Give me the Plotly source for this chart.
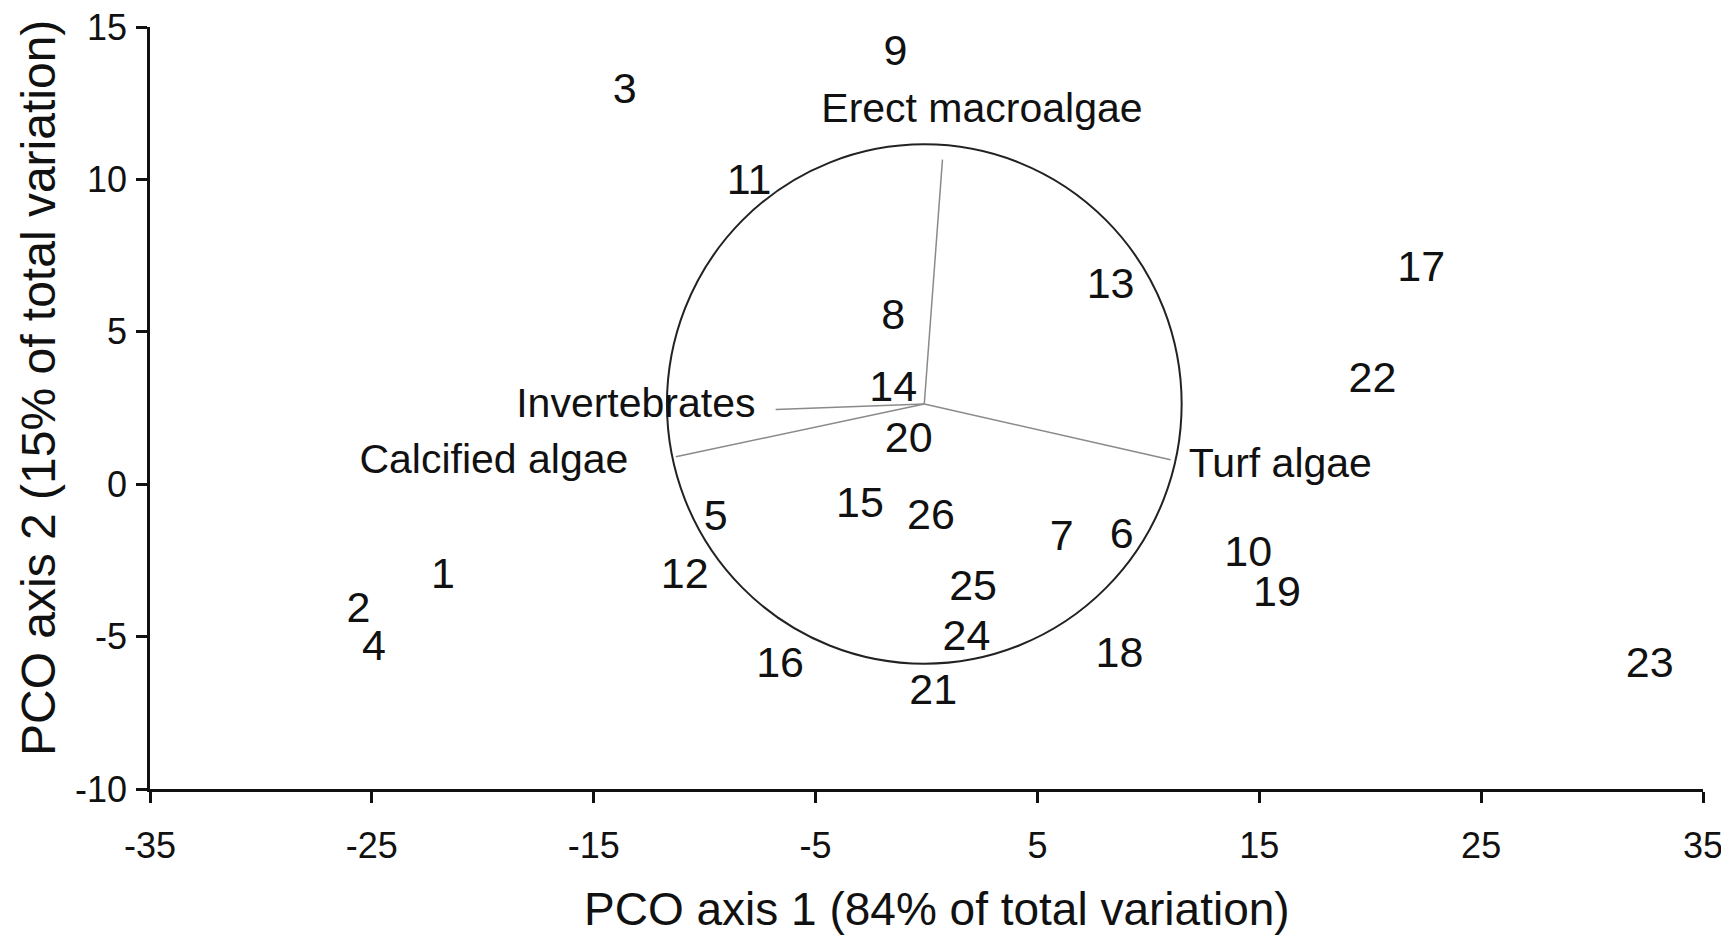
import plotly.graph_objects as go

# Sample scores on PCO axes
sample_labels = ["1", "2", "3", "4", "5", "6", "7", "8", "9", "10", "11", "12", "13",
                 "14", "15", "16", "17", "18", "19", "20", "21", "22", "23", "24", "25", "26"]
pco1 = [-21.8, -25.6, -13.6, -24.9, -9.5, 8.8, 6.1, -1.5, -1.4, 14.5, -8.0, -10.9, 8.3,
        -1.5, -3.0, -6.6, 22.3, 8.7, 15.8, -0.8, 0.3, 20.1, 32.6, 1.8, 2.1, 0.2]
pco2 = [-3.04, -4.17, 12.86, -5.41, -1.14, -1.74, -1.81, 5.46, 14.12, -2.34, 9.86, -3.04, 6.46,
        3.09, -0.71, -5.97, 7.03, -5.64, -3.64, 1.4, -6.87, 3.39, -5.97, -5.08, -3.44, -1.11]

# Vector overlay (functional groups)
vector_names = ["Erect macroalgae", "Invertebrates", "Calcified algae", "Turf algae"]
vector_end_x = [0.72, -6.8, -11.3, 11.0]
vector_end_y = [10.65, 2.45, 0.9, 0.8]
vector_label_x = [2.5, -13.1, -19.5, 15.95]
vector_label_y = [12.23, 2.53, 0.71, 0.58]
origin_x, origin_y = -0.1, 2.63

# Correlation circle (in data units)
circle_rx, circle_ry = 11.6, 8.52

# Axes
x_ticks = [-35, -25, -15, -5, 5, 15, 25, 35]
x_ticktext = ["-35", "-25", "-15", "-5", "5", "15", "25", "35"]
y_ticks = [-10, -5, 0, 5, 10, 15]
y_ticktext = ["-10", "-5", "0", "5", "10", "15"]
x_title = "PCO axis 1 (84% of total variation)"
y_title = "PCO axis 2 (15% of total variation)"

FONT = "Liberation Sans, Arial, sans-serif"

# The page body adds an 8px margin, so the figure is drawn 8px smaller
W, H = 1721, 928
ML, MR, MT, MB = 142, 26, 19, 147
plot_w, plot_h = W - ML - MR, H - MT - MB

fig = go.Figure()

for ex, ey in zip(vector_end_x, vector_end_y):
    fig.add_trace(go.Scatter(
        x=[origin_x, ex], y=[origin_y, ey], mode="lines",
        line=dict(color="#8a8a8a", width=1.5), hoverinfo="skip", showlegend=False))

fig.add_trace(go.Scatter(
    x=pco1, y=pco2, mode="text", text=sample_labels, textposition="middle center",
    textfont=dict(family=FONT, size=43, color="#111111"), showlegend=False,
    cliponaxis=False))

fig.add_trace(go.Scatter(
    x=vector_label_x, y=vector_label_y, mode="text", text=vector_names,
    textposition="middle center",
    textfont=dict(family=FONT, size=41, color="#111111"), showlegend=False,
    cliponaxis=False))

fig.add_shape(type="circle", xref="x", yref="y",
              x0=origin_x - circle_rx, x1=origin_x + circle_rx,
              y0=origin_y - circle_ry, y1=origin_y + circle_ry,
              line=dict(color="#222222", width=2), layer="below")

axis_common = dict(
    showgrid=False, zeroline=False, showline=True, linecolor="#111111", linewidth=2.5,
    ticks="outside", ticklen=11, tickwidth=2.5, tickcolor="#111111",
    tickfont=dict(family=FONT, size=36, color="#111111"), automargin=False,
    ticklabeloverflow="allow",
)

# Axis titles as annotations for precise placement
fig.add_annotation(text=x_title, xref="paper", yref="paper",
                   x=(937 - 8 - ML) / plot_w, y=-(909 - 8 - (MT + plot_h)) / plot_h,
                   xanchor="center", yanchor="middle", showarrow=False,
                   font=dict(family=FONT, size=46, color="#111111"))
fig.add_annotation(text=y_title, xref="paper", yref="paper", textangle=-90,
                   x=-(ML - (38 - 8)) / plot_w, y=1 - (388 - 8 - MT) / plot_h,
                   xanchor="center", yanchor="middle", showarrow=False,
                   font=dict(family=FONT, size=48, color="#111111"))

fig.update_layout(
    width=W, height=H,
    paper_bgcolor="white", plot_bgcolor="white",
    margin=dict(l=ML, r=MR, t=MT, b=MB),
    xaxis=dict(range=[-35, 35], tickvals=x_ticks, ticktext=x_ticktext, ticklabelstandoff=12,
               **axis_common),
    yaxis=dict(range=[-10, 15], tickvals=y_ticks, ticktext=y_ticktext, ticklabelstandoff=2,
               **axis_common),
)

fig.write_html("out.html")
